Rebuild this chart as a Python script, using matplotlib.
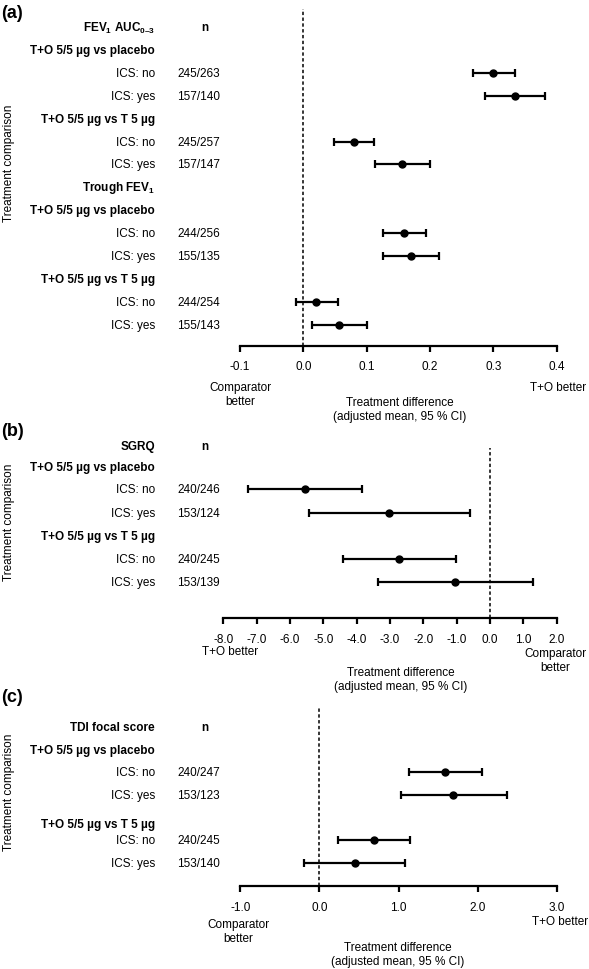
import numpy as np
import matplotlib.pyplot as plt

plt.rcParams['font.family'] = ['Liberation Sans', 'DejaVu Sans']
plt.rcParams['mathtext.fontset'] = 'custom'
plt.rcParams['mathtext.rm'] = 'Liberation Sans'
plt.rcParams['mathtext.bf'] = 'Liberation Sans:bold'
plt.rcParams['axes.unicode_minus'] = False

W, H = 589, 970
nan = np.nan

# Panel (a): FEV1 AUC0-3 and trough FEV1
labels_a = [r"FEV$_\mathbf{1}$ AUC$_\mathbf{0–3}$", "T+O 5/5 µg vs placebo", "ICS: no", "ICS: yes",
            "T+O 5/5 µg vs T 5 µg", "ICS: no", "ICS: yes",
            r"Trough FEV$_\mathbf{1}$", "T+O 5/5 µg vs placebo", "ICS: no", "ICS: yes",
            "T+O 5/5 µg vs T 5 µg", "ICS: no", "ICS: yes"]
header_a = [1, 1, 0, 0, 1, 0, 0, 1, 1, 0, 0, 1, 0, 0]
n_a = ["n", "", "245/263", "157/140", "", "245/257", "157/147",
       "", "", "244/256", "155/135", "", "244/254", "155/143"]
mean_a = [nan, nan, 0.300, 0.334, nan, 0.080, 0.156, nan, nan, 0.159, 0.170, nan, 0.020, 0.056]
lo_a = [nan, nan, 0.268, 0.287, nan, 0.048, 0.113, nan, nan, 0.126, 0.125, nan, -0.012, 0.013]
hi_a = [nan, nan, 0.334, 0.382, nan, 0.112, 0.200, nan, nan, 0.193, 0.214, nan, 0.054, 0.100]
ticks_a = [-0.1, 0.0, 0.1, 0.2, 0.3, 0.4]

# Panel (b): SGRQ
labels_b = ["SGRQ", "T+O 5/5 µg vs placebo", "ICS: no", "ICS: yes",
            "T+O 5/5 µg vs T 5 µg", "ICS: no", "ICS: yes"]
header_b = [1, 1, 0, 0, 1, 0, 0]
n_b = ["n", "", "240/246", "153/124", "", "240/245", "153/139"]
mean_b = [nan, nan, -5.55, -3.02, nan, -2.72, -1.05]
lo_b = [nan, nan, -7.27, -5.43, nan, -4.42, -3.35]
hi_b = [nan, nan, -3.85, -0.60, nan, -1.02, 1.30]
ticks_b = [-8.0, -7.0, -6.0, -5.0, -4.0, -3.0, -2.0, -1.0, 0.0, 1.0, 2.0]

# Panel (c): TDI focal score
labels_c = ["TDI focal score", "T+O 5/5 µg vs placebo", "ICS: no", "ICS: yes",
            "T+O 5/5 µg vs T 5 µg", "ICS: no", "ICS: yes"]
header_c = [1, 1, 0, 0, 1, 0, 0]
n_c = ["n", "", "240/247", "153/123", "", "240/245", "153/140"]
mean_c = [nan, nan, 1.59, 1.69, nan, 0.69, 0.45]
lo_c = [nan, nan, 1.13, 1.03, nan, 0.23, -0.19]
hi_c = [nan, nan, 2.06, 2.37, nan, 1.15, 1.085]
ticks_c = [-1.0, 0.0, 1.0, 2.0, 3.0]

FS = 8.5
fig = plt.figure(figsize=(W / 100, H / 100), dpi=100)


def ftext(x, y, s, **kw):
    # text placed in figure pixels (y from top)
    kw.setdefault('fontsize', FS)
    fig.text(x / W, 1 - y / H, s, **kw)


def panel(tag, box, y0, step, pos, labels, header, ns, mean, lo, hi, ticks):
    left, right, top, bottom = box
    ax = fig.add_axes([left / W, 1 - bottom / H, (right - left) / W, (bottom - top) / H])
    ax.set_xlim(ticks[0], ticks[-1])
    ax.set_ylim((bottom - y0) / step, (top - y0) / step)

    pos = np.asarray(pos, dtype=float)
    mean = np.asarray(mean)
    lo = np.asarray(lo)
    hi = np.asarray(hi)
    ok = ~np.isnan(mean)
    ax.errorbar(mean[ok], pos[ok], xerr=[mean[ok] - lo[ok], hi[ok] - mean[ok]],
                fmt='o', color='black', ms=5, lw=1.6, capsize=2.6, capthick=1.6)
    ax.axvline(0, color='black', lw=1.1, ls=(0, (2.2, 1.6)))

    for s in ['left', 'top', 'right']:
        ax.spines[s].set_visible(False)
    ax.spines['bottom'].set_linewidth(1.6)
    ax.set_yticks([])
    ax.set_xticks(ticks)
    ax.set_xticklabels(['%.1f' % t for t in ticks])
    ax.tick_params(axis='x', direction='out', length=4.5, width=1.6, labelsize=FS, pad=6)

    for p, lab, hd, n in zip(pos, labels, header, ns):
        yy = y0 + step * p
        ftext(155, yy, lab, ha='right', va='center', fontweight='bold' if hd else 'normal')
        if n == "n":
            ftext(205, yy, n, ha='center', va='center', fontweight='bold')
        elif n:
            ftext(177, yy, n, ha='left', va='center')

    ftext(1, tag[1], tag[0], fontsize=13, fontweight='bold', ha='left', va='center')
    return ax


panel(("(a)", 13), (240, 556.7, 10, 346.7), 28, 22.9, np.arange(14),
      labels_a, header_a, n_a, mean_a, lo_a, hi_a, ticks_a)
ftext(9, 163, "Treatment comparison", rotation=90, ha='center', va='center')
ftext(240, 395, "Comparator\nbetter", ha='center', va='center', linespacing=1.3)
ftext(586, 388, "T+O better", ha='right', va='center')
ftext(400, 410, "Treatment difference\n(adjusted mean, 95 % CI)", ha='center', va='center', linespacing=1.3)

panel(("(b)", 432), (223.3, 556.7, 449, 619.3), 444, 23.2, [0.15, 1.05, 2, 3, 4, 5, 6],
      labels_b, header_b, n_b, mean_b, lo_b, hi_b, ticks_b)
ftext(9, 522, "Treatment comparison", rotation=90, ha='center', va='center')
ftext(230, 652, "T+O better", ha='center', va='center')
ftext(555, 661, "Comparator\nbetter", ha='center', va='center', linespacing=1.3)
ftext(401, 680, "Treatment difference\n(adjusted mean, 95 % CI)", ha='center', va='center', linespacing=1.3)

panel(("(c)", 698), (240.3, 556.7, 709, 887.3), 728, 22.6, [0, 1, 2, 3, 4.3, 5, 6],
      labels_c, header_c, n_c, mean_c, lo_c, hi_c, ticks_c)
ftext(9, 792, "Treatment comparison", rotation=90, ha='center', va='center')
ftext(238, 932, "Comparator\nbetter", ha='center', va='center', linespacing=1.3)
ftext(588, 922, "T+O better", ha='right', va='center')
ftext(398, 955, "Treatment difference\n(adjusted mean, 95 % CI)", ha='center', va='center', linespacing=1.3)

fig.savefig('out.png', dpi=100)
